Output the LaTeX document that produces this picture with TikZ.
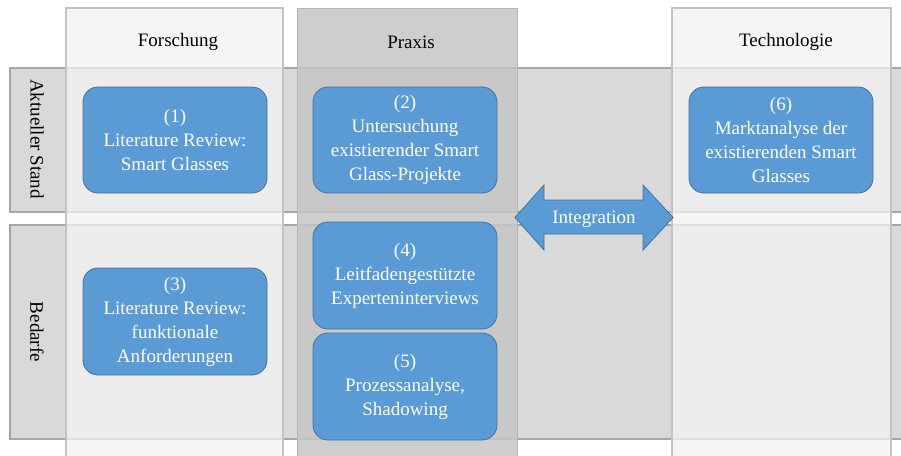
\documentclass[tikz,border=0pt]{standalone}
\usepackage{fontspec}
\setmainfont{Liberation Serif}
\begin{document}
\definecolor{rowfill}{HTML}{D9D9D9}
\definecolor{rowline}{HTML}{A6A6A6}
\definecolor{colfill}{HTML}{F2F2F2}
\definecolor{colline}{HTML}{C3C3C3}
\definecolor{praxfill}{HTML}{C6C6C6}
\definecolor{boxfill}{HTML}{5B9BD5}
\definecolor{boxline}{HTML}{41719C}
\begin{tikzpicture}[x=1pt,y=-1pt,
  font=\fontsize{19}{24}\selectfont,
  rowband/.style={fill=rowfill,draw=rowline,line width=1.5pt},
  colband/.style={fill=colfill,fill opacity=0.76,draw=colline,line width=1.5pt,draw opacity=1},
  praxband/.style={fill=praxfill,fill opacity=0.85,draw=praxfill!92!black,line width=1pt},
  stepbox/.style={rectangle,rounded corners=15pt,fill=boxfill,draw=boxline,line width=0.8pt,
    text=white,align=center,minimum width=184pt,inner sep=0pt},
  header/.style={text=black},
  rowlabel/.style={text=black,rotate=-90}
]
\useasboundingbox (0,0) rectangle (901,455);
\clip (0,0) rectangle (901,455);
\fill[white] (0,0) rectangle (901,455);

% row bands
\draw[rowband] (10,68) rectangle (910,212);
\draw[rowband] (10,225) rectangle (910,439);

% column bands
\draw[colband] (66,8) rectangle (283,470);
\draw[praxband] (297,8) rectangle (517,470);
\draw[colband] (672,8) rectangle (891,470);

% headers
\node[header] (forschung) at (178,42) {Forschung};
\node[header] (praxis) at (411,42) {Praxis};
\node[header] (technologie) at (786,42) {Technologie};

% row labels
\node[rowlabel] (stand) at (37,139) {Aktueller Stand};
\node[rowlabel] (bedarfe) at (37,332) {Bedarfe};

% steps
\node[stepbox,minimum height=106pt] (s1) at (175,140) {(1)\\Literature Review:\\Smart Glasses};
\node[stepbox,minimum height=106pt] (s2) at (405,140) {(2)\\Untersuchung\\existierender Smart\\Glass-Projekte};
\node[stepbox,minimum height=106pt] (s6) at (781,140) {(6)\\Marktanalyse der\\existierenden Smart\\Glasses};
\node[stepbox,minimum height=107pt] (s3) at (175,321.5) {(3)\\Literature Review:\\funktionale\\Anforderungen};
\node[stepbox,minimum height=107pt] (s4) at (405,275.5) {(4)\\Leitfadengestützte\\Experteninterviews};
\node[stepbox,minimum height=107pt] (s5) at (405,386.5) {(5)\\Prozessanalyse,\\Shadowing};

% integration double arrow
\fill[boxfill,draw=boxline,line width=0.8pt]
  (515,217.5) -- (544,185) -- (544,200) -- (643,200) -- (643,185) -- (673,217.5)
  -- (643,250) -- (643,234) -- (544,234) -- (544,250) -- cycle;
\node[text=white] (integration) at (594,219.5) {Integration};
\end{tikzpicture}
\end{document}
